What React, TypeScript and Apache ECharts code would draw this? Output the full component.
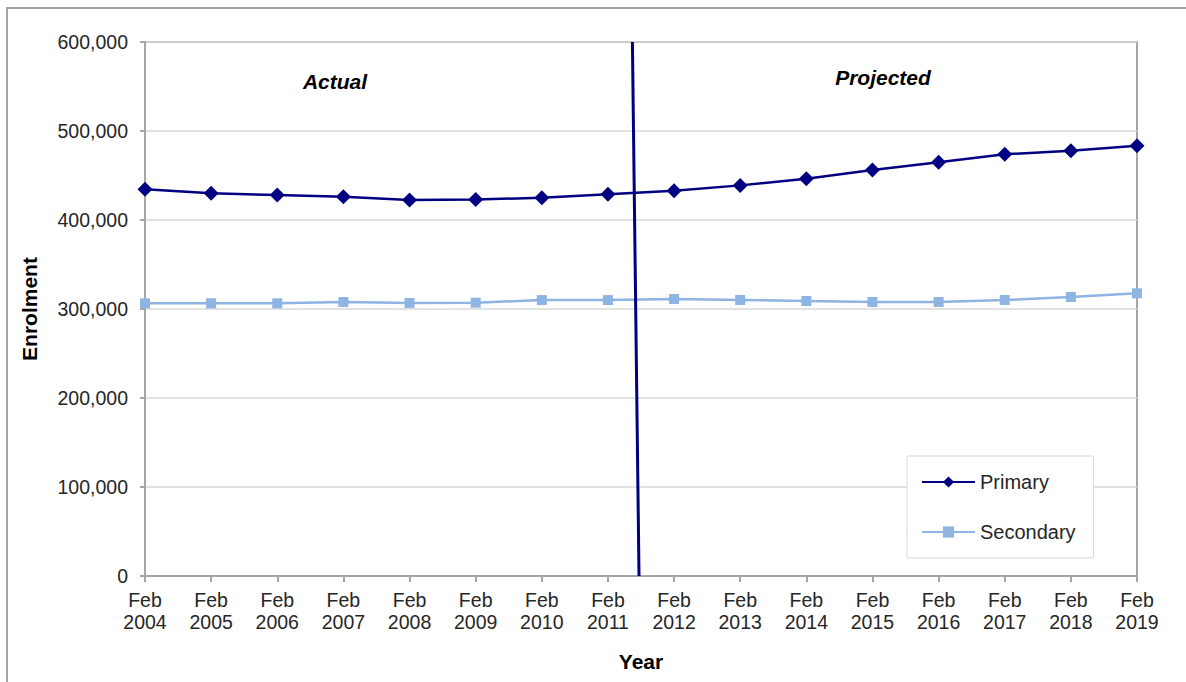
import React, { useEffect, useRef } from "react";
import * as echarts from "echarts";

// Enrolment by year, February census
const years = [
  "2004", "2005", "2006", "2007", "2008", "2009", "2010", "2011",
  "2012", "2013", "2014", "2015", "2016", "2017", "2018", "2019",
];
const categories = years.map((y) => `Feb\n${y}`);

const primary = [
  434500, 430000, 428100, 426200, 422500, 423000, 425000, 429000,
  432900, 438900, 446400, 456200, 465000, 473800, 477900, 483500,
];
const secondary = [
  306400, 306400, 306400, 307900, 306800, 307100, 310000, 310000,
  311200, 310100, 309000, 307900, 307900, 310100, 313500, 317600,
];

// Divider between actual and projected figures (category index, enrolment)
const dividerLine: [number, number][] = [
  [7.37, 600000],
  [7.47, 0],
];

const yTicks = { min: 0, max: 600000, interval: 100000 };

const FONT = "'Liberation Sans', Arial, Helvetica, sans-serif";
const NAVY = "#000080";
const LIGHT_BLUE = "#8EB4E3";
const FRAME = "#a6a6a6";

export default function App() {
  const ref = useRef<HTMLDivElement>(null);

  useEffect(() => {
    if (!ref.current) return;
    const chart = echarts.init(ref.current, undefined, { renderer: "svg" });
    chart.setOption({
      animation: false,
      backgroundColor: "#ffffff",
      grid: {
        left: 145,
        right: 49,
        top: 42,
        bottom: 106,
        show: true,
        borderColor: FRAME,
        borderWidth: 2,
        containLabel: false,
      },
      legend: {
        orient: "vertical",
        left: 907,
        top: 456,
        padding: [16, 18, 16, 14],
        itemGap: 30,
        itemWidth: 53,
        itemHeight: 14,
        borderColor: "#d9d9d9",
        borderWidth: 1,
        backgroundColor: "#ffffff",
        data: ["Primary", "Secondary"],
        textStyle: { fontFamily: FONT, fontSize: 20, color: "#262626", padding: [0, 0, 0, 0] },
      },
      xAxis: [
        {
          type: "category",
          data: categories,
          boundaryGap: false,
          name: "Year",
          nameLocation: "middle",
          nameGap: 75,
          nameTextStyle: {
            fontFamily: FONT,
            fontSize: 21,
            fontWeight: "bold",
            color: "#000",
            verticalAlign: "top",
          },
          axisLine: { lineStyle: { color: FRAME, width: 2 } },
          axisTick: { show: true, length: 6, alignWithLabel: true, lineStyle: { color: FRAME, width: 2 } },
          axisLabel: {
            interval: 0,
            margin: 13,
            fontFamily: FONT,
            fontSize: 19.5,
            lineHeight: 22,
            color: "#262626",
          },
          splitLine: { show: false },
        },
        {
          type: "value",
          min: 0,
          max: categories.length - 1,
          show: false,
        },
      ],
      yAxis: {
        type: "value",
        min: yTicks.min,
        max: yTicks.max,
        interval: yTicks.interval,
        name: "Enrolment",
        nameLocation: "middle",
        nameGap: 105,
        nameRotate: 90,
        nameTextStyle: {
          fontFamily: FONT,
          fontSize: 21,
          fontWeight: "bold",
          color: "#000",
        },
        axisLine: { show: true, lineStyle: { color: FRAME, width: 2 } },
        axisTick: { show: true, length: 5, lineStyle: { color: FRAME, width: 2 } },
        axisLabel: {
          margin: 17,
          fontFamily: FONT,
          fontSize: 19.5,
          color: "#262626",
          formatter: (v: number) => v.toLocaleString("en-US"),
        },
        splitLine: { show: true, lineStyle: { color: "#d9d9d9", width: 1.5 } },
      },
      series: [
        {
          name: "Primary",
          type: "line",
          data: primary,
          symbol: "diamond",
          symbolSize: 15,
          itemStyle: { color: NAVY },
          lineStyle: { color: NAVY, width: 2.5 },
          z: 3,
        },
        {
          name: "Secondary",
          type: "line",
          data: secondary,
          symbol: "rect",
          symbolSize: 10,
          itemStyle: { color: LIGHT_BLUE },
          lineStyle: { color: LIGHT_BLUE, width: 2.5 },
          z: 3,
        },
        {
          name: "divider",
          type: "line",
          xAxisIndex: 1,
          data: dividerLine,
          symbol: "none",
          lineStyle: { color: NAVY, width: 3 },
          z: 4,
          silent: true,
        },
      ],
      graphic: [
        {
          type: "rect",
          shape: { x: 7, y: 8, width: 1200, height: 700 },
          style: { fill: "none", stroke: FRAME, lineWidth: 2 },
          silent: true,
        },
        {
          type: "text",
          x: 335,
          y: 81,
          style: {
            text: "Actual",
            fontFamily: FONT,
            fontSize: 21,
            fontWeight: "bold",
            fontStyle: "italic",
            fill: "#000",
            align: "center",
            verticalAlign: "middle",
          },
        },
        {
          type: "text",
          x: 883,
          y: 77,
          style: {
            text: "Projected",
            fontFamily: FONT,
            fontSize: 21,
            fontWeight: "bold",
            fontStyle: "italic",
            fill: "#000",
            align: "center",
            verticalAlign: "middle",
          },
        },
      ],
    });
    return () => chart.dispose();
  }, []);

  return (
    <div
      ref={ref}
      style={{ position: "fixed", left: 0, top: 0, width: 1186, height: 682 }}
    />
  );
}
